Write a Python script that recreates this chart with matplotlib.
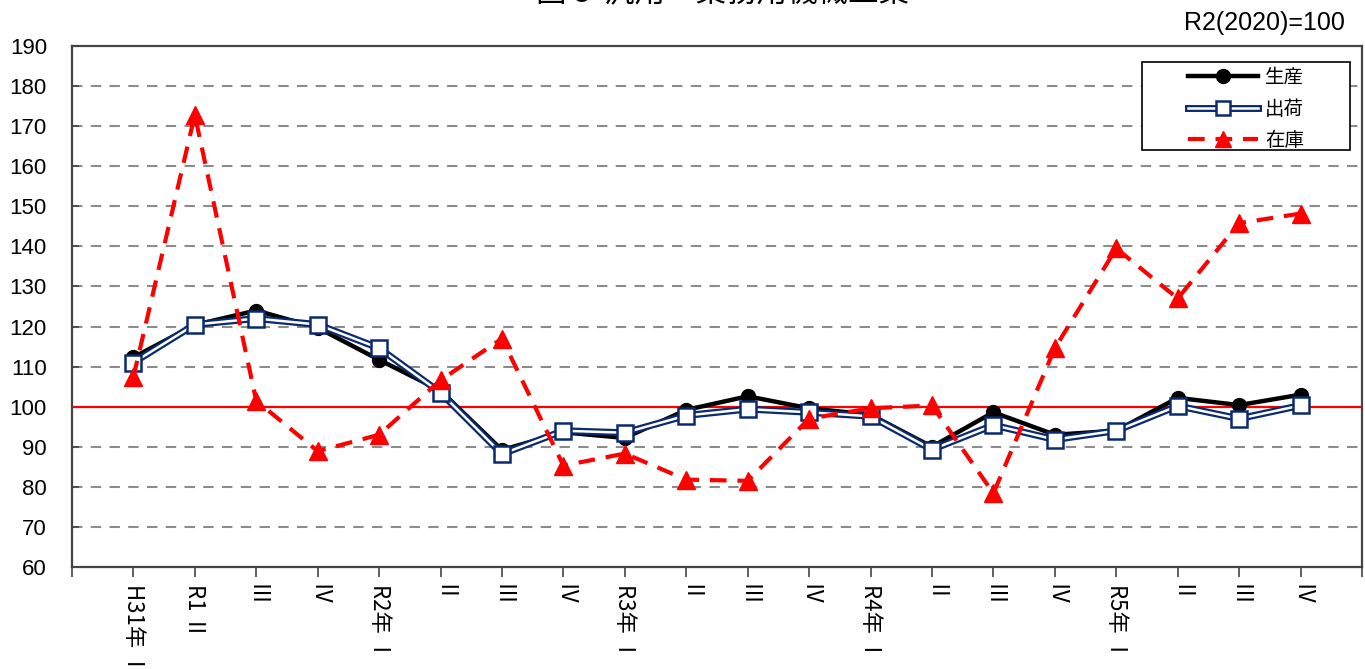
import numpy as np
import matplotlib
matplotlib.use("Agg")
from matplotlib import pyplot as plt
from matplotlib.lines import Line2D
from matplotlib.patches import Rectangle
from matplotlib.legend_handler import HandlerTuple

plt.rcParams['font.family'] = ['Noto Sans CJK JP', 'DejaVu Sans']

# datos (R2(2020)=100)
etiquetas = ['H31年 Ⅰ', 'R1 Ⅱ', 'Ⅲ', 'Ⅳ',
             'R2年 Ⅰ', 'Ⅱ', 'Ⅲ', 'Ⅳ',
             'R3年 Ⅰ', 'Ⅱ', 'Ⅲ', 'Ⅳ',
             'R4年 Ⅰ', 'Ⅱ', 'Ⅲ', 'Ⅳ',
             'R5年 Ⅰ', 'Ⅱ', 'Ⅲ', 'Ⅳ']
seisan = [112.3, 120.4, 124.0, 119.7, 111.7, 104.0, 89.2, 93.6, 92.2, 99.2,
          102.6, 99.6, 98.0, 90.0, 98.6, 93.0, 94.0, 102.2, 100.4, 103.0]
shukka = [111.0, 120.5, 122.0, 120.5, 114.6, 103.5, 88.2, 94.0, 93.5, 97.8,
          99.4, 98.6, 97.6, 89.3, 95.4, 91.8, 94.0, 100.2, 97.0, 100.3]
zaiko = [107.4, 172.8, 101.5, 88.9, 93.0, 106.6, 117.0, 85.3, 88.3, 81.8,
         81.5, 97.0, 99.6, 100.3, 78.4, 114.6, 139.5, 127.0, 145.8, 148.2]

x = np.arange(len(etiquetas))
navy = '#0a2a6e'

fig = plt.figure(figsize=(13.65, 6.69), dpi=100)
ax = fig.add_axes([0.0527, 0.1525, 0.9451, 0.7787])

ax.set_xlim(-1, len(etiquetas))
ax.set_ylim(60, 190)

# rejilla
for v in range(70, 190, 10):
    if v == 100:
        continue
    ax.axhline(v, color='#8c8c8c', lw=1.5, dashes=(5, 4), zorder=1)
ax.axhline(100, color='#ff0000', lw=1.6, zorder=2)

# series
ax.plot(x, seisan, color='black', lw=3.2, marker='o', ms=10,
        mfc='black', mec='black', zorder=4)
ax.plot(x, shukka, color=navy, lw=5, zorder=5)
ax.plot(x, shukka, color='white', lw=1.8, marker='s', ms=11,
        mfc='white', mec=navy, mew=1.8, zorder=6)
ax.plot(x, zaiko, color='#ff0000', lw=3, dashes=(4, 2.6), marker='^',
        ms=13, mfc='#ff0000', mec='#ff0000', zorder=7)

# ejes
for s in ax.spines.values():
    s.set_color('#444444')
    s.set_linewidth(1.6)
ax.set_yticks(np.arange(60, 191, 10))
ax.tick_params(axis='y', direction='in', length=5, width=1.2,
               labelsize=16, colors='#444444', labelcolor='black', pad=18)
for t in ax.get_yticklabels():
    t.set_family(['Liberation Sans', 'DejaVu Sans'])

ax.set_xticks(np.arange(-1, len(etiquetas) + 1))
ax.set_xticklabels([''] + etiquetas + [''], rotation=-90, va='top',
                   ha='center', fontsize=16)
ax.tick_params(axis='x', direction='out', length=7, width=1.2,
               colors='#444444', labelcolor='black', pad=5)

# leyenda (marco aparte)
ax.add_patch(Rectangle((0.8295, 0.8004), 0.9907 - 0.8295, 0.9693 - 0.8004,
                       transform=ax.transAxes, facecolor='white',
                       edgecolor='black', lw=1.2, zorder=9))
h1 = Line2D([], [], color='black', lw=3.2, marker='o', ms=10)
h2a = Line2D([], [], color=navy, lw=5)
h2b = Line2D([], [], color='white', lw=1.8, marker='s', ms=10,
             mfc='white', mec=navy, mew=1.8)
h3 = Line2D([], [], color='#ff0000', lw=3, dashes=(4, 2.6), marker='^',
            ms=12)
leg = ax.legend([h1, (h2a, h2b), h3], ['生産', '出荷', '在庫'],
                handler_map={tuple: HandlerTuple(ndivide=1, pad=0)},
                loc='upper left', bbox_to_anchor=(0.8651, 0.960),
                fontsize=14, handlelength=3.6, handletextpad=0.35,
                labelspacing=0.55, borderpad=0, borderaxespad=0,
                frameon=False)
leg.set_zorder(10)

# textos
fig.text(1345 / 1365, 1 - 23 / 669, 'R2(2020)=100', ha='right', va='center',
         fontsize=18, family=['Liberation Sans', 'DejaVu Sans'])
fig.text(0.529, 1 - 1 / 669, '図 8  汎用・業務用機械工業', ha='center',
         va='baseline', fontsize=22)

fig.savefig('out.png', dpi=100)
